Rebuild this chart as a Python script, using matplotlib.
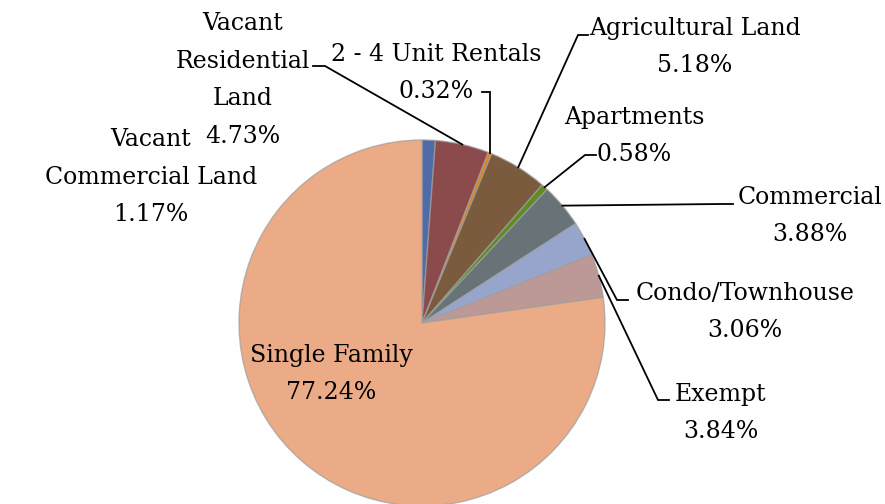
import matplotlib
matplotlib.use("Agg")
import matplotlib.pyplot as plt
import numpy as np

categories = ["Vacant Commercial Land", "Vacant Residential Land", "2 - 4 Unit Rentals",
              "Agricultural Land", "Apartments", "Commercial", "Condo/Townhouse",
              "Exempt", "Single Family"]
shares = [1.17, 4.73, 0.32, 5.18, 0.58, 3.88, 3.06, 3.84, 77.24]
label_texts = ["Vacant\nCommercial Land", "Vacant\nResidential\nLand", "2 - 4 Unit Rentals",
               "Agricultural Land", "Apartments", "Commercial", "Condo/Townhouse",
               "Exempt", "Single Family"]
colors = ["#4F6BA8", "#8B4A4C", "#E4821A", "#7B5B3D", "#5F8B23", "#687378",
          "#97A5CD", "#BC9897", "#EBAB86"]

W, H = 885, 504
fig = plt.figure(figsize=(W / 100, H / 100), dpi=100)
ax = fig.add_axes([0, 0, 1, 1])

cx, cy, R = 422, 323, 183


def Y(y):
    return H - y


ax.pie(shares, colors=colors, startangle=90, counterclock=False,
       center=(cx, Y(cy)), radius=R, frame=True,
       wedgeprops=dict(edgecolor=(0.62, 0.62, 0.62, 0.7), linewidth=1.0))
ax.set_xlim(0, W)
ax.set_ylim(0, H)
ax.set_aspect("equal")
ax.axis("off")

FONT = "DejaVu Serif"
FS = 17

# label text centres (pixel coords) and leader routes (elbow, end)
label_pos = [(151, 177), (243, 80), (436, 73), (695, 47), (634, 136),
             (810, 216), (745, 312), (721, 413), (331, 374)]
leaders = {1: [(325, 66), (313, 66)],
           2: [(490, 92), (482, 92)],
           3: [(578, 35), (588, 35)],
           4: [(585, 155), (596, 155)],
           5: [(720, 204), (733, 204)],
           6: [(617, 300), (628, 300)],
           7: [(658, 400), (669, 400)]}

cum = 0.0
for i, (name, v) in enumerate(zip(label_texts, shares)):
    mid = cum + v / 2
    cum += v
    theta = np.deg2rad(360 * mid / 100)
    ex = cx + R * np.sin(theta)
    ey = cy - R * np.cos(theta)
    txt = f"{name}\n{v:.2f}%"
    x, y = label_pos[i]
    ax.text(x, Y(y), txt, ha="center", va="center", multialignment="center",
            fontsize=FS, family=FONT, linespacing=1.8, color="black")
    if i in leaders:
        pts = [(ex, ey)] + leaders[i]
        ax.plot([p[0] for p in pts], [Y(p[1]) for p in pts], color="black",
                lw=1.3, solid_joinstyle="miter")

fig.savefig("out.png", dpi=100)
